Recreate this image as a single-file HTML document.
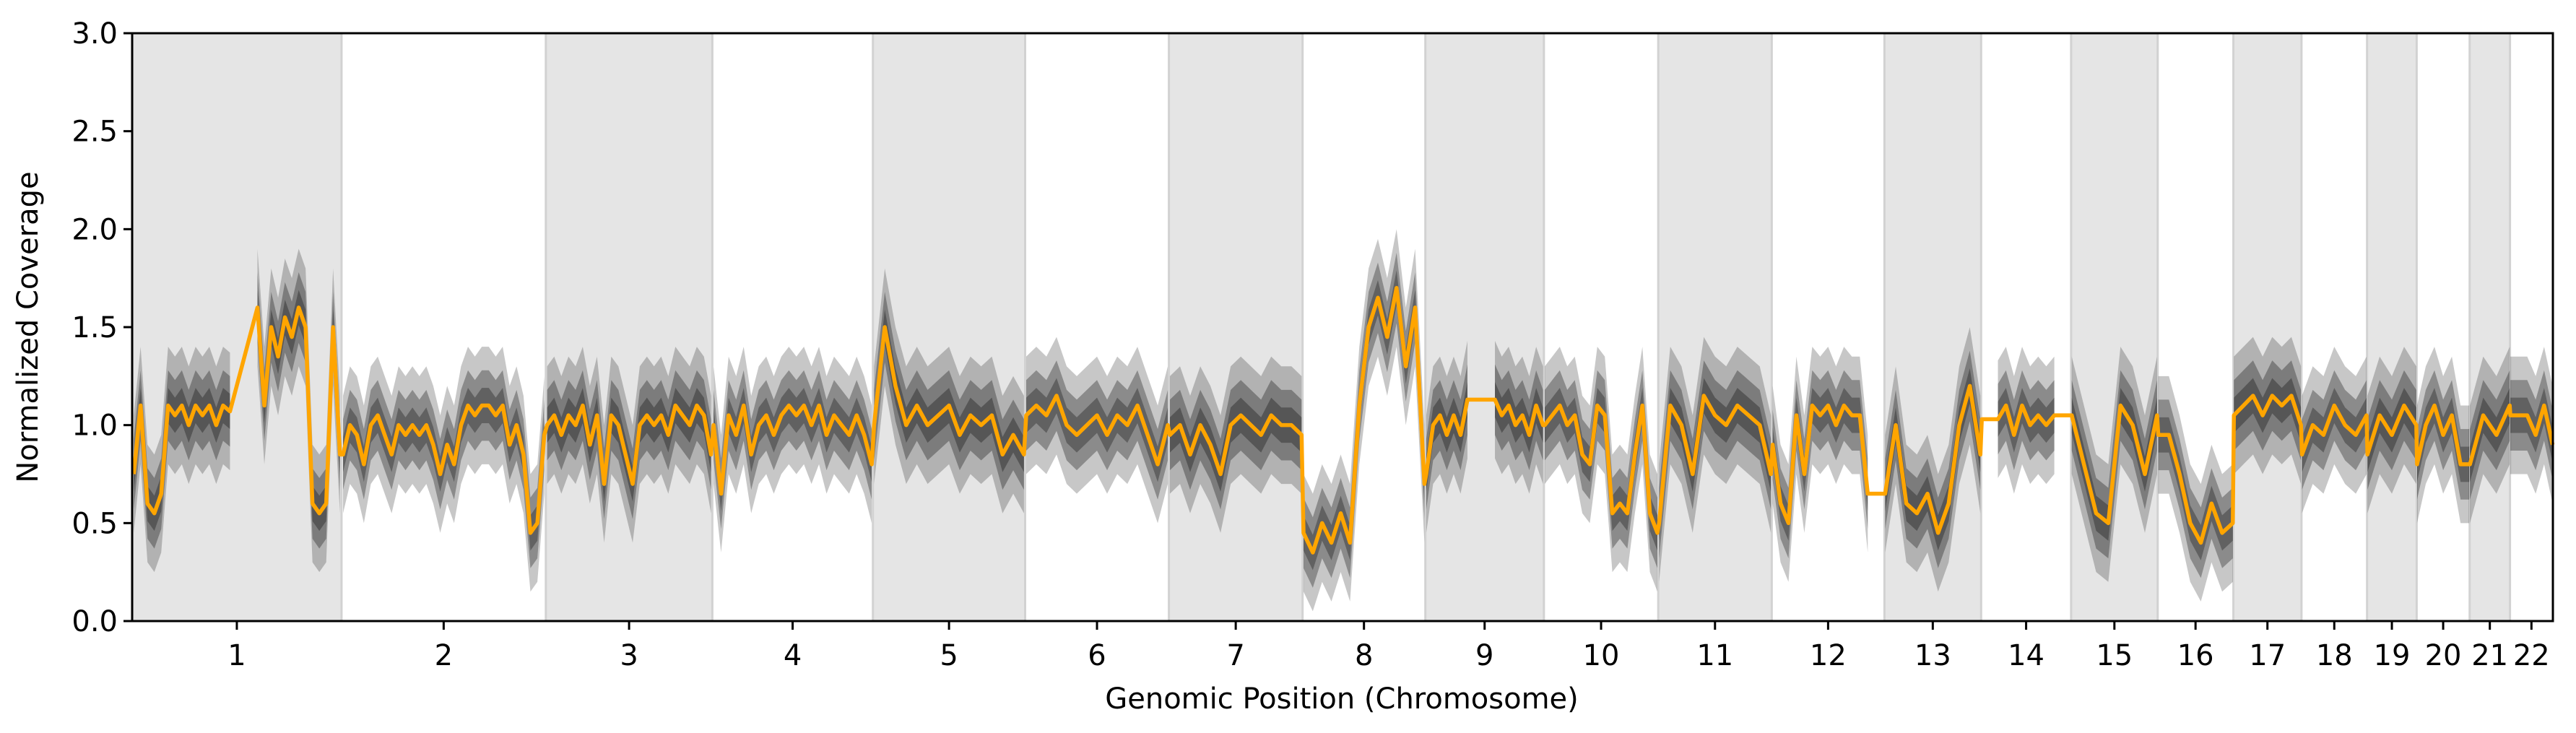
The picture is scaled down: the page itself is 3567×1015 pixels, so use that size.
<!DOCTYPE html>
<html><head><meta charset="utf-8">
<style>
html,body{margin:0;padding:0;background:#fff;}
svg{display:block;font-family:"DejaVu Sans","Liberation Sans",sans-serif;}
</style></head>
<body>
<svg id="chart" width="3567" height="1015" viewBox="0 0 3567 1015" xmlns="http://www.w3.org/2000/svg">
<g id="bands"></g>
<g id="scatter"></g>
<g id="segments"></g>
<g id="axes"></g>
<text x="0" y="0" transform="translate(52,453) rotate(-90)" text-anchor="middle" font-size="40">Normalized Coverage</text>
<text x="1858" y="981" text-anchor="middle" font-size="40">Genomic Position (Chromosome)</text>
</svg>
<script>
const chromNames = ["1","2","3","4","5","6","7","8","9","10","11","12","13","14","15","16","17","18","19","20","21","22"];
const chromLengths = [249,243,198,191,181,171,159,146,141,136,135,134,115,107,103,90,81,78,59,63,48,51];
const yTicks = [0,0.5,1.0,1.5,2.0,2.5,3.0];
const yTickLabels = ["0.0","0.5","1.0","1.5","2.0","2.5","3.0"];
const seg1 = [0.75,1.1,0.6,0.55,0.65,1.1,1.05,1.1,1.0,1.1,1.05,1.1,1.0,1.1,1.07,null,null,null,1.6,1.1,1.5,1.35,1.55,1.45,1.6,1.5,0.6,0.55,0.6,1.5,0.85];
const seg2 = [0.85,1.0,0.95,0.8,1.0,1.05,0.95,0.85,1.0,0.95,1.0,0.95,1.0,0.9,0.75,0.9,0.8,1.0,1.1,1.05,1.1,1.1,1.05,1.1,0.9,1.0,0.85,0.45,0.5,0.95];
const seg3 = [1.0,1.05,0.95,1.05,1.0,1.1,0.9,1.05,0.7,1.05,1.0,0.85,0.7,1.0,1.05,1.0,1.05,0.95,1.1,1.05,1.0,1.1,1.05,0.85];
const seg4 = [1.0,0.65,1.05,0.95,1.1,0.85,1.0,1.05,0.95,1.05,1.1,1.05,1.1,1.0,1.1,0.95,1.05,1.0,0.95,1.05,0.95,0.8];
const seg5 = [1.0,1.5,1.2,1.0,1.1,1.0,1.05,1.1,0.95,1.05,1.0,1.05,0.85,0.95,0.85];
const seg6 = [1.05,1.1,1.05,1.15,1.0,0.95,1.0,1.05,0.95,1.05,1.0,1.1,0.95,0.8,1.0];
const seg7 = [0.95,1.0,0.85,1.0,0.9,0.75,1.0,1.05,1.0,0.95,1.05,1.0,1.0,0.95];
const seg8 = [0.45,0.35,0.5,0.4,0.55,0.4,1.1,1.5,1.65,1.45,1.7,1.3,1.6,0.7];
const seg9 = [0.75,1.0,1.05,0.95,1.05,0.95,1.13,null,null,null,1.13,1.05,1.1,1.0,1.05,0.95,1.1,1.0];
const seg10 = [1.0,1.05,1.1,1.0,1.05,0.85,0.8,1.1,1.05,0.55,0.6,0.55,0.85,1.1,0.55,0.45];
const seg11 = [0.5,1.1,1.0,0.75,1.15,1.05,1.0,1.1,1.05,1.0,0.75];
const seg12 = [0.9,0.6,0.5,1.05,0.75,1.1,1.05,1.1,1.0,1.1,1.05,1.05,0.65,null,0.65];
const seg13 = [0.65,1.0,0.6,0.55,0.65,0.45,0.6,1.0,1.2,0.85];
const seg14 = [1.03,null,1.03,1.1,0.95,1.1,1.0,1.05,1.0,1.05,null,1.05];
const seg15 = [1.05,0.8,0.55,0.5,1.1,1.0,0.75,1.05];
const seg16 = [0.95,0.95,0.75,0.5,0.4,0.6,0.45,0.5];
const seg17 = [1.05,1.1,1.15,1.05,1.15,1.1,1.15,1.0];
const seg18 = [0.85,1.0,0.95,1.1,1.0,0.95,1.05];
const seg19 = [0.85,1.05,0.95,1.1,1.0];
const seg20 = [0.8,1.0,1.1,0.95,1.05,0.8,0.8];
const seg21 = [0.8,1.05,0.95,1.1];
const seg22 = [1.05,1.05,1.05,0.95,1.1,0.9];
const segments = [seg1,seg2,seg3,seg4,seg5,seg6,seg7,seg8,seg9,seg10,seg11,seg12,seg13,seg14,seg15,seg16,seg17,seg18,seg19,seg20,seg21,seg22];

const NS="http://www.w3.org/2000/svg";
const L=183,R=3535,T=46,B=860;
const total=chromLengths.reduce((a,b)=>a+b,0);
const xs=v=>L+(v/total)*(R-L);
const ys=v=>B-(v/3)*(B-T);
function mk(tag,attrs,parent){const e=document.createElementNS(NS,tag);for(const k in attrs)e.setAttribute(k,attrs[k]);parent.appendChild(e);return e;}
const gB=document.getElementById('bands'),gS=document.getElementById('scatter'),gL=document.getElementById('segments'),gA=document.getElementById('axes');
let starts=[];let c=0;chromLengths.forEach(l=>{starts.push(c);c+=l;});
chromNames.forEach((n,i)=>{
  if(i%2===0){
    const r=mk('rect',{x:xs(starts[i]),y:T,width:xs(starts[i]+chromLengths[i])-xs(starts[i]),height:B-T,fill:'#e5e5e5',stroke:'#d2d2d2','stroke-width':3},gB);
    
    
  }
});
let linePts=[];
function band(run,w,op,name){
  const up=run.map(p=>p[0]+','+ys(p[1]+w)).join(' ');
  const dn=run.slice().reverse().map(p=>p[0]+','+ys(p[1]-w)).join(' ');
  const pg=mk('polygon',{points:up+' '+dn,fill:'#000','fill-opacity':op},gS);
  
  
}
segments.forEach((arr,i)=>{
  const n=arr.length;const s=starts[i],len=chromLengths[i];
  let run=[];
  const flush=()=>{
    if(run.length>1){
      band(run,0.3,0.22,'points-outer-chr'+chromNames[i]);
      band(run,0.18,0.3,'points-chr'+chromNames[i]);
      band(run,0.09,0.3,'points-core-chr'+chromNames[i]);
    }
    run=[];
  };
  arr.forEach((v,j)=>{
    const x=xs(s+len*(n>1?j/(n-1):0.5)*0.985+len*0.0075);
    if(v===null){flush();return;}
    run.push([x,v]);linePts.push(x+','+ys(v));
  });
  flush();
});
const pl=mk('polyline',{points:linePts.join(' '),fill:'none',stroke:'#ffa500','stroke-width':5.5,'stroke-linejoin':'round'},gL);


const fr=mk('rect',{x:L,y:T,width:R-L,height:B-T,fill:'none',stroke:'#000','stroke-width':3},gA);


yTicks.forEach((v,i)=>{
  const t=mk('line',{x1:L-12,x2:L,y1:ys(v),y2:ys(v),stroke:'#000','stroke-width':3},gA);
  
  
  const tx=mk('text',{x:L-20,y:ys(v)+14,'text-anchor':'end','font-size':40},gA);
  tx.textContent=yTickLabels[i];
  
  
});
chromNames.forEach((n,i)=>{
  const x=xs(starts[i]+chromLengths[i]/2);
  const t=mk('line',{x1:x,x2:x,y1:B,y2:B+12,stroke:'#000','stroke-width':3},gA);
  
  
  const tx=mk('text',{x:x,y:921,'text-anchor':'middle','font-size':40},gA);
  tx.textContent=n;
  
  
});
</script>
</body></html>
